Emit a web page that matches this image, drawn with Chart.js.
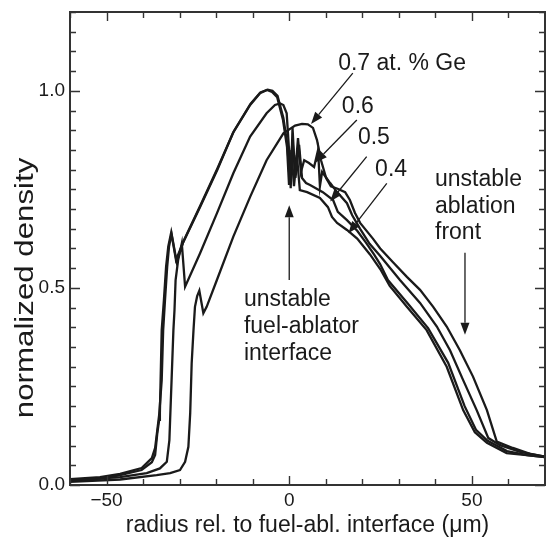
<!DOCTYPE html>
<html>
<head>
<meta charset="UTF-8" />
<title>normalized density</title>
<style>
  html, body { margin: 0; padding: 0; background: #fff; }
  #densityChart { display: block; }
</style>
</head>
<body>
<canvas id="densityChart" width="546" height="540"></canvas>
<script src="https://cdn.jsdelivr.net/npm/chart.js"></script>
<script>
// values (x in um, y normalized)
const ge04X = [-60, -51.8, -46.3, -40.4, -37.6, -36.7, -36.1, -35.6, -35.4, -34.9, -34.3, -33.7, -33.1, -32.3, -31.0, -29.1, -24.4, -19.7, -15.4, -10.7, -8.0, -6.1, -4.7, -3.3, -1.7, -0.6, -0.05, 0.6, 1.3, 2.1, 2.9, 4.9, 8.4, 10.6, 11.7, 13.1, 15.8, 18.6, 22.1, 24.9, 27.5, 32.2, 37.6, 43.1, 47.6, 50.8, 54.1, 59.5, 65.0, 70];
const ge04Y = [0.012, 0.016, 0.025, 0.038, 0.058, 0.076, 0.132, 0.165, 0.183, 0.393, 0.469, 0.554, 0.605, 0.641, 0.571, 0.614, 0.705, 0.799, 0.893, 0.964, 0.994, 1.002, 0.997, 0.984, 0.926, 0.857, 0.761, 0.850, 0.758, 0.837, 0.748, 0.743, 0.728, 0.705, 0.680, 0.665, 0.647, 0.625, 0.585, 0.548, 0.505, 0.452, 0.393, 0.300, 0.190, 0.134, 0.107, 0.081, 0.076, 0.071];

const ge05X = [-60, -51.8, -46.3, -40.4, -37.6, -36.7, -36.1, -35.6, -34.9, -34.5, -34.0, -33.4, -32.9, -32.2, -30.8, -28.9, -24.3, -19.6, -15.2, -10.6, -7.9, -5.9, -4.6, -3.2, -1.6, -0.5, 0.1, 0.9, 1.7, 2.7, 3.5, 4.6, 5.7, 9.2, 12.0, 13.3, 15.8, 18.6, 21.0, 23.2, 24.9, 27.0, 32.5, 38.0, 43.5, 48.0, 51.1, 54.3, 59.6, 65.1, 70];
const ge05Y = [0.015, 0.020, 0.028, 0.043, 0.068, 0.094, 0.140, 0.178, 0.266, 0.393, 0.469, 0.554, 0.605, 0.637, 0.566, 0.619, 0.710, 0.804, 0.897, 0.967, 0.996, 1.003, 1.000, 0.987, 0.931, 0.863, 0.774, 0.875, 0.779, 0.863, 0.779, 0.766, 0.761, 0.743, 0.723, 0.693, 0.672, 0.645, 0.615, 0.585, 0.560, 0.520, 0.460, 0.398, 0.310, 0.200, 0.140, 0.112, 0.086, 0.076, 0.071];

const ge06X = [-60, -46.3, -39.0, -35.4, -33.5, -32.8, -32.6, -32.2, -31.7, -31.4, -31.1, -30.4, -29.4, -28.5, -24.4, -19.8, -15.3, -10.7, -6.2, -3.9, -2.5, -1.6, -0.7, -0.05, 0.4, 0.9, 1.6, 2.4, 3.2, 4.1, 5.4, 6.8, 7.9, 8.4, 9.0, 11.2, 13.1, 15.8, 17.2, 19.4, 22.0, 24.8, 30.3, 35.8, 40.4, 44.0, 47.6, 51.3, 54.5, 57.7, 63.2, 70];
const ge06Y = [0.011, 0.020, 0.030, 0.042, 0.059, 0.114, 0.165, 0.266, 0.393, 0.444, 0.520, 0.571, 0.613, 0.503, 0.588, 0.689, 0.791, 0.884, 0.943, 0.964, 0.968, 0.964, 0.943, 0.850, 0.753, 0.906, 0.786, 0.880, 0.794, 0.824, 0.817, 0.807, 0.850, 0.758, 0.794, 0.766, 0.743, 0.715, 0.685, 0.650, 0.612, 0.582, 0.520, 0.462, 0.402, 0.342, 0.266, 0.190, 0.119, 0.101, 0.084, 0.072];

const ge07X = [-60, -46.3, -36.3, -32.6, -29.9, -28.5, -27.6, -27.1, -26.7, -26.2, -25.8, -25.2, -24.6, -23.5, -22.6, -19.8, -15.3, -10.7, -6.2, -1.6, 1.6, 3.5, 5.1, 6.5, 7.6, 8.7, 10.1, 11.4, 13.4, 15.3, 16.6, 18.0, 19.4, 22.9, 24.9, 28.4, 32.2, 35.8, 39.4, 43.1, 46.7, 50.3, 54.1, 56.8, 61.2, 65.9, 70];
const ge07Y = [0.008, 0.014, 0.025, 0.030, 0.038, 0.059, 0.097, 0.183, 0.309, 0.393, 0.452, 0.479, 0.493, 0.436, 0.452, 0.520, 0.630, 0.731, 0.824, 0.892, 0.912, 0.916, 0.915, 0.906, 0.875, 0.824, 0.779, 0.758, 0.751, 0.743, 0.723, 0.690, 0.665, 0.625, 0.600, 0.565, 0.528, 0.495, 0.452, 0.402, 0.342, 0.275, 0.190, 0.110, 0.094, 0.079, 0.072];

const seriesNames = ['0.4', '0.5', '0.6', '0.7'];
const xTickLabels = [-50, 0, 50];
const yTickLabels = [0, 0.5, 1.0];
const yTitle = 'normalized density';

// callouts, anchored in data units
const notes = [
  { lines: ['0.7 at. % Ge'], x: 13.4, y: 1.070 },
  { lines: ['0.6'], x: 14.4, y: 0.960 },
  { lines: ['0.5'], x: 18.8, y: 0.880 },
  { lines: ['0.4'], x: 23.5, y: 0.799 },
  { lines: ['unstable', 'ablation', 'front'], x: 39.9, y: 0.774 },
  { lines: ['unstable', 'fuel-ablator', 'interface'], x: -12.4, y: 0.469 }
];
const arrows = [
  { from: [17.4, 1.045], to: [5.97, 0.916] },
  { from: [18.5, 0.926], to: [7.1, 0.818] },
  { from: [21.2, 0.833], to: [11.2, 0.719] },
  { from: [26.7, 0.765], to: [16.2, 0.639] },
  { from: [48.1, 0.589], to: [48.1, 0.381] },
  { from: [0, 0.52], to: [0, 0.710] }
];

const ink = '#1a1a1a';
const FONT = '"Liberation Sans", Arial, Helvetica, sans-serif';

function pairs(xs, ys) {
  return xs.map((x, i) => ({ x: x, y: ys[i] }));
}

const frameAndNotes = {
  id: 'frameAndNotes',
  afterDatasetsDraw(chart) {
    const { ctx, chartArea: a, scales: { x, y } } = chart;
    ctx.save();
    ctx.strokeStyle = '#333';
    ctx.lineWidth = 1.4;
    ctx.beginPath();
    // inward ticks, all four sides
    for (let i = 0; i <= 13; i++) {
      const v = -60 + i * 10;
      const px = Math.round(x.getPixelForValue(v)) + 0.5;
      const len = v % 50 === 0 ? 9 : 6;
      ctx.moveTo(px, a.bottom); ctx.lineTo(px, a.bottom - len);
      ctx.moveTo(px, a.top); ctx.lineTo(px, a.top + len);
    }
    for (let i = 0; i <= 24; i++) {
      const v = i * 0.05;
      const py = Math.round(y.getPixelForValue(v)) + 0.5;
      const len = i % 10 === 0 ? 10 : 6;
      ctx.moveTo(a.left, py); ctx.lineTo(a.left + len, py);
      ctx.moveTo(a.right, py); ctx.lineTo(a.right - len, py);
    }
    ctx.stroke();
    ctx.lineWidth = 2;
    ctx.strokeRect(a.left, a.top, a.right - a.left, a.bottom - a.top);

    // arrows
    ctx.strokeStyle = ink;
    ctx.fillStyle = ink;
    ctx.lineWidth = 1.3;
    arrows.forEach(ar => {
      const x0 = x.getPixelForValue(ar.from[0]), y0 = y.getPixelForValue(ar.from[1]);
      const x1 = x.getPixelForValue(ar.to[0]), y1 = y.getPixelForValue(ar.to[1]);
      const ang = Math.atan2(y1 - y0, x1 - x0);
      const hl = 12, hw = 4.5;
      const bx = x1 - hl * Math.cos(ang), by = y1 - hl * Math.sin(ang);
      ctx.beginPath();
      ctx.moveTo(x0, y0); ctx.lineTo(bx, by);
      ctx.stroke();
      ctx.beginPath();
      ctx.moveTo(x1, y1);
      ctx.lineTo(bx + hw * Math.sin(ang), by - hw * Math.cos(ang));
      ctx.lineTo(bx - hw * Math.sin(ang), by + hw * Math.cos(ang));
      ctx.closePath();
      ctx.fill();
    });

    // labels
    ctx.font = '23px ' + FONT;
    ctx.textAlign = 'left';
    ctx.textBaseline = 'middle';
    notes.forEach(n => {
      const px = x.getPixelForValue(n.x), py = y.getPixelForValue(n.y);
      n.lines.forEach((t, i) => ctx.fillText(t, px, py + i * 26.6));
    });

    // y title, centred on the 0.5 tick like the original
    ctx.translate(a.left - 44, y.getPixelForValue(0.5));
    ctx.rotate(-Math.PI / 2);
    ctx.scale(1.25, 1);
    ctx.font = '25px ' + FONT;
    ctx.textAlign = 'center';
    ctx.fillText(yTitle, 0, 0);
    ctx.restore();
  }
};

const ctx = document.getElementById('densityChart');
const allX = [ge04X, ge05X, ge06X, ge07X];
const allY = [ge04Y, ge05Y, ge06Y, ge07Y];

function noPad(s) {
  s.paddingTop = 0; s.paddingBottom = 0; s.paddingLeft = 0; s.paddingRight = 0;
}

new Chart(ctx, {
  type: 'line',
  data: {
    datasets: seriesNames.map((name, i) => ({
      label: name + ' at. % Ge',
      data: pairs(allX[i], allY[i]),
      borderColor: ink,
      borderWidth: 2.3,
      pointRadius: 0,
      tension: 0,
      fill: false
    }))
  },
  options: {
    responsive: false,
    animation: false,
    layout: { padding: { top: 12, right: 1, left: 0, bottom: 0 } },
    plugins: { legend: { display: false }, tooltip: { enabled: false } },
    scales: {
      x: {
        type: 'linear',
        min: -60,
        max: 70,
        grid: { display: false, drawTicks: false },
        border: { display: false },
        afterBuildTicks: s => { s.ticks = xTickLabels.map(v => ({ value: v })); },
        afterFit: s => { s.height = 55; noPad(s); },
        ticks: {
          padding: 4,
          color: ink,
          font: { family: FONT, size: 19 },
          maxRotation: 0,
          callback: v => (v < 0 ? '\u2212' + Math.abs(v) : String(v))
        },
        title: {
          display: true,
          text: 'radius rel. to fuel-abl. interface (\u03bcm)',
          color: ink,
          font: { family: FONT, size: 23, lineHeight: 1.2 },
          padding: { top: 0, bottom: 1 }
        }
      },
      y: {
        min: 0,
        max: 1.2,
        grid: { display: false, drawTicks: false },
        border: { display: false },
        afterBuildTicks: s => { s.ticks = yTickLabels.map(v => ({ value: v })); },
        afterFit: s => { s.width = 70; noPad(s); },
        ticks: {
          padding: 5,
          color: ink,
          font: { family: FONT, size: 19 },
          callback: v => Number(v).toFixed(1)
        }
      }
    }
  },
  plugins: [frameAndNotes]
});
</script>
</body>
</html>
